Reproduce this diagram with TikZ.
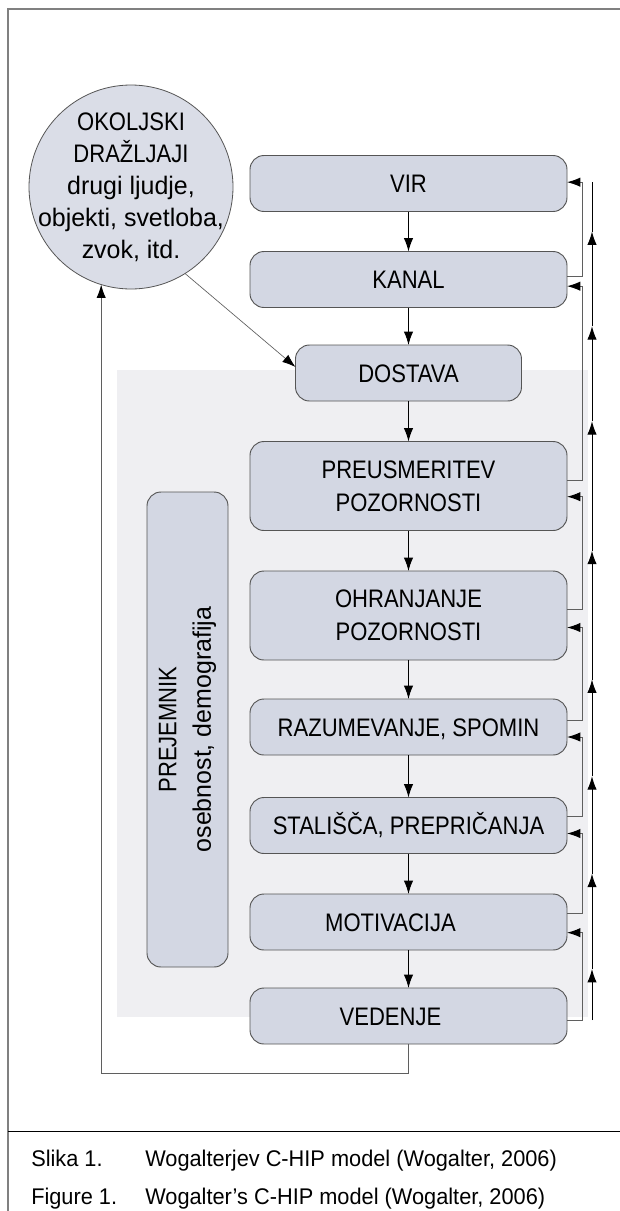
\documentclass[tikz,border=0pt]{standalone}
\usepackage{fontspec}
\setmainfont[FakeStretch=0.87]{Liberation Sans}
\newfontfamily\lcfont[FakeStretch=0.985]{Liberation Sans}
\newfontfamily\capfont[FakeStretch=0.96]{Liberation Sans}
\usetikzlibrary{arrows.meta,calc}
\definecolor{boxfill}{RGB}{211,215,227}
\definecolor{boxline}{RGB}{85,85,85}
\definecolor{bgfill}{RGB}{239,239,242}
\definecolor{framecol}{RGB}{128,128,128}
\definecolor{fbline}{RGB}{95,95,95}
\begin{document}
\begin{tikzpicture}[x=0.75pt,y=-0.75pt,
  boxstyle/.style={draw=boxline, fill=boxfill, line width=0.7pt, rounded corners=10.5pt,
    inner sep=0pt, outer sep=0pt, minimum width=237.75pt, minimum height=42pt,
    font=\fontsize{19pt}{25pt}\selectfont, text height=13.6pt, text depth=0pt},
  box2/.style={draw=boxline, fill=boxfill, line width=0.7pt, rounded corners=10.5pt,
    inner sep=0pt, outer sep=0pt, minimum width=237.75pt, minimum height=66.75pt,
    font=\fontsize{19pt}{25pt}\selectfont, align=center},
  pstyle/.style={draw=boxline, fill=boxfill, line width=0.7pt, rounded corners=10.5pt,
    inner sep=0pt, outer sep=0pt, rotate=90, minimum width=356.25pt, minimum height=60.75pt,
    font=\fontsize{19pt}{26pt}\selectfont, align=center},
  circstyle/.style={draw=boxline, fill=boxfill!85!white, line width=0.6pt, circle,
    inner sep=0pt, outer sep=0pt, minimum size=153pt},
  ctext/.style={inner sep=0pt, align=center, font=\fontsize{19pt}{24pt}\selectfont},
  capst/.style={inner sep=0pt, anchor=base west, font=\capfont\fontsize{17pt}{18pt}\selectfont},
  arr/.style={-{Latex[length=10pt,width=7pt]}, line width=0.75pt, draw=black},
  garr/.style={-{Latex[length=10pt,width=7pt,color=black]}, line width=0.75pt, draw=fbline}
]
\useasboundingbox (0,0) rectangle (620,1211);
% frame and background
\draw[framecol, line width=1.1pt] (620,9) -- (8,9) -- (8,1211);
\draw[black, line width=0.75pt] (8,1131) -- (620,1131);
\fill[bgfill] (117,370) rectangle (588,1017);

% nodes
\node[circstyle] (env) at (131,187) {};
\node[ctext] (envtxt) at (env.center) {OKOLJSKI\\DRAŽLJAJI\\{\lcfont drugi ljudje,}\\{\lcfont objekti, svetloba,}\\{\lcfont zvok, itd.}};

\node[boxstyle] (vir) at (408.5,183.5) {VIR};
\node[boxstyle] (kan) at (408.5,279.5) {KANAL};
\node[boxstyle, minimum width=169.5pt] (dost) at (408.5,373) {DOSTAVA};
\node[box2] (preu) at (408.5,486) {PREUSMERITEV\\POZORNOSTI};
\node[box2] (ohr) at (408.5,615.5) {OHRANJANJE\\POZORNOSTI};
\node[boxstyle] (raz) at (408.5,727) {RAZUMEVANJE, SPOMIN};
\node[boxstyle] (stal) at (408.5,825.5) {STALIŠČA, PREPRIČANJA};
\node[boxstyle] (mot) at (408.5,922) {\kern-27pt MOTIVACIJA};
\node[boxstyle] (ved) at (408.5,1016) {\kern-27pt VEDENJE};

\node[pstyle] (prej) at (187.5,729.5) {PREJEMNIK\\{\lcfont osebnost, demografija}};

% main chain
\foreach \a/\b in {vir/kan, kan/dost, dost/preu, preu/ohr, ohr/raz, raz/stal, stal/mot, mot/ved}
  \draw[arr] (\a.south) -- (\b.north);

% environment stimuli to delivery
\draw[garr, line width=0.5pt] (env.-58) -- ([yshift=4.5pt]dost.west);

% feedback from behaviour to environment
\draw[garr] (ved.south) -- ++(0,29) -| (env.-107.7);

% right-hand feedback lines
\coordinate (col) at (582,0);
\coordinate (ocol) at (592,0);
\foreach \cur/\prev/\os/\is in {kan/vir/2.6/1, preu/kan/3.8/-5, ohr/preu/4.5/-8, raz/ohr/5.2/-9, stal/raz/6.4/-7.5, mot/stal/6.7/-6, ved/mot/-3/-8}
{
  \coordinate (\prev-in) at ([yshift=\is pt]\prev.east);
  \draw[garr] ([yshift=\os pt]\cur.east) -| (col |- \prev-in) -- (\prev-in);
}

% outer upward line
\coordinate (otop) at (592,182);
\coordinate (obot) at (592,1020);
\foreach \a/\b [count=\i] in {vir/kan, kan/dost, dost/preu, preu/ohr, ohr/raz, raz/stal, stal/mot, mot/ved}
  \coordinate (m\i) at ($(\a.south)!0.5!(\b.north)$);
\draw[arr] (obot) -- (ocol |- m8);
\foreach \i/\j in {8/7,7/6,6/5,5/4,4/3,3/2,2/1}
  \draw[arr] (ocol |- m\i) -- (ocol |- m\j);
\draw[line width=0.75pt] (ocol |- m1) -- (otop);

% caption
\node[capst] (c1a) at (31,1166) {Slika 1.};
\node[capst] (c1b) at (145,1166) {Wogalterjev C-HIP model (Wogalter, 2006)};
\node[capst] (c2a) at (31,1204) {Figure 1.};
\node[capst] (c2b) at (145,1204) {Wogalter’s C-HIP model (Wogalter, 2006)};
\end{tikzpicture}
\end{document}
